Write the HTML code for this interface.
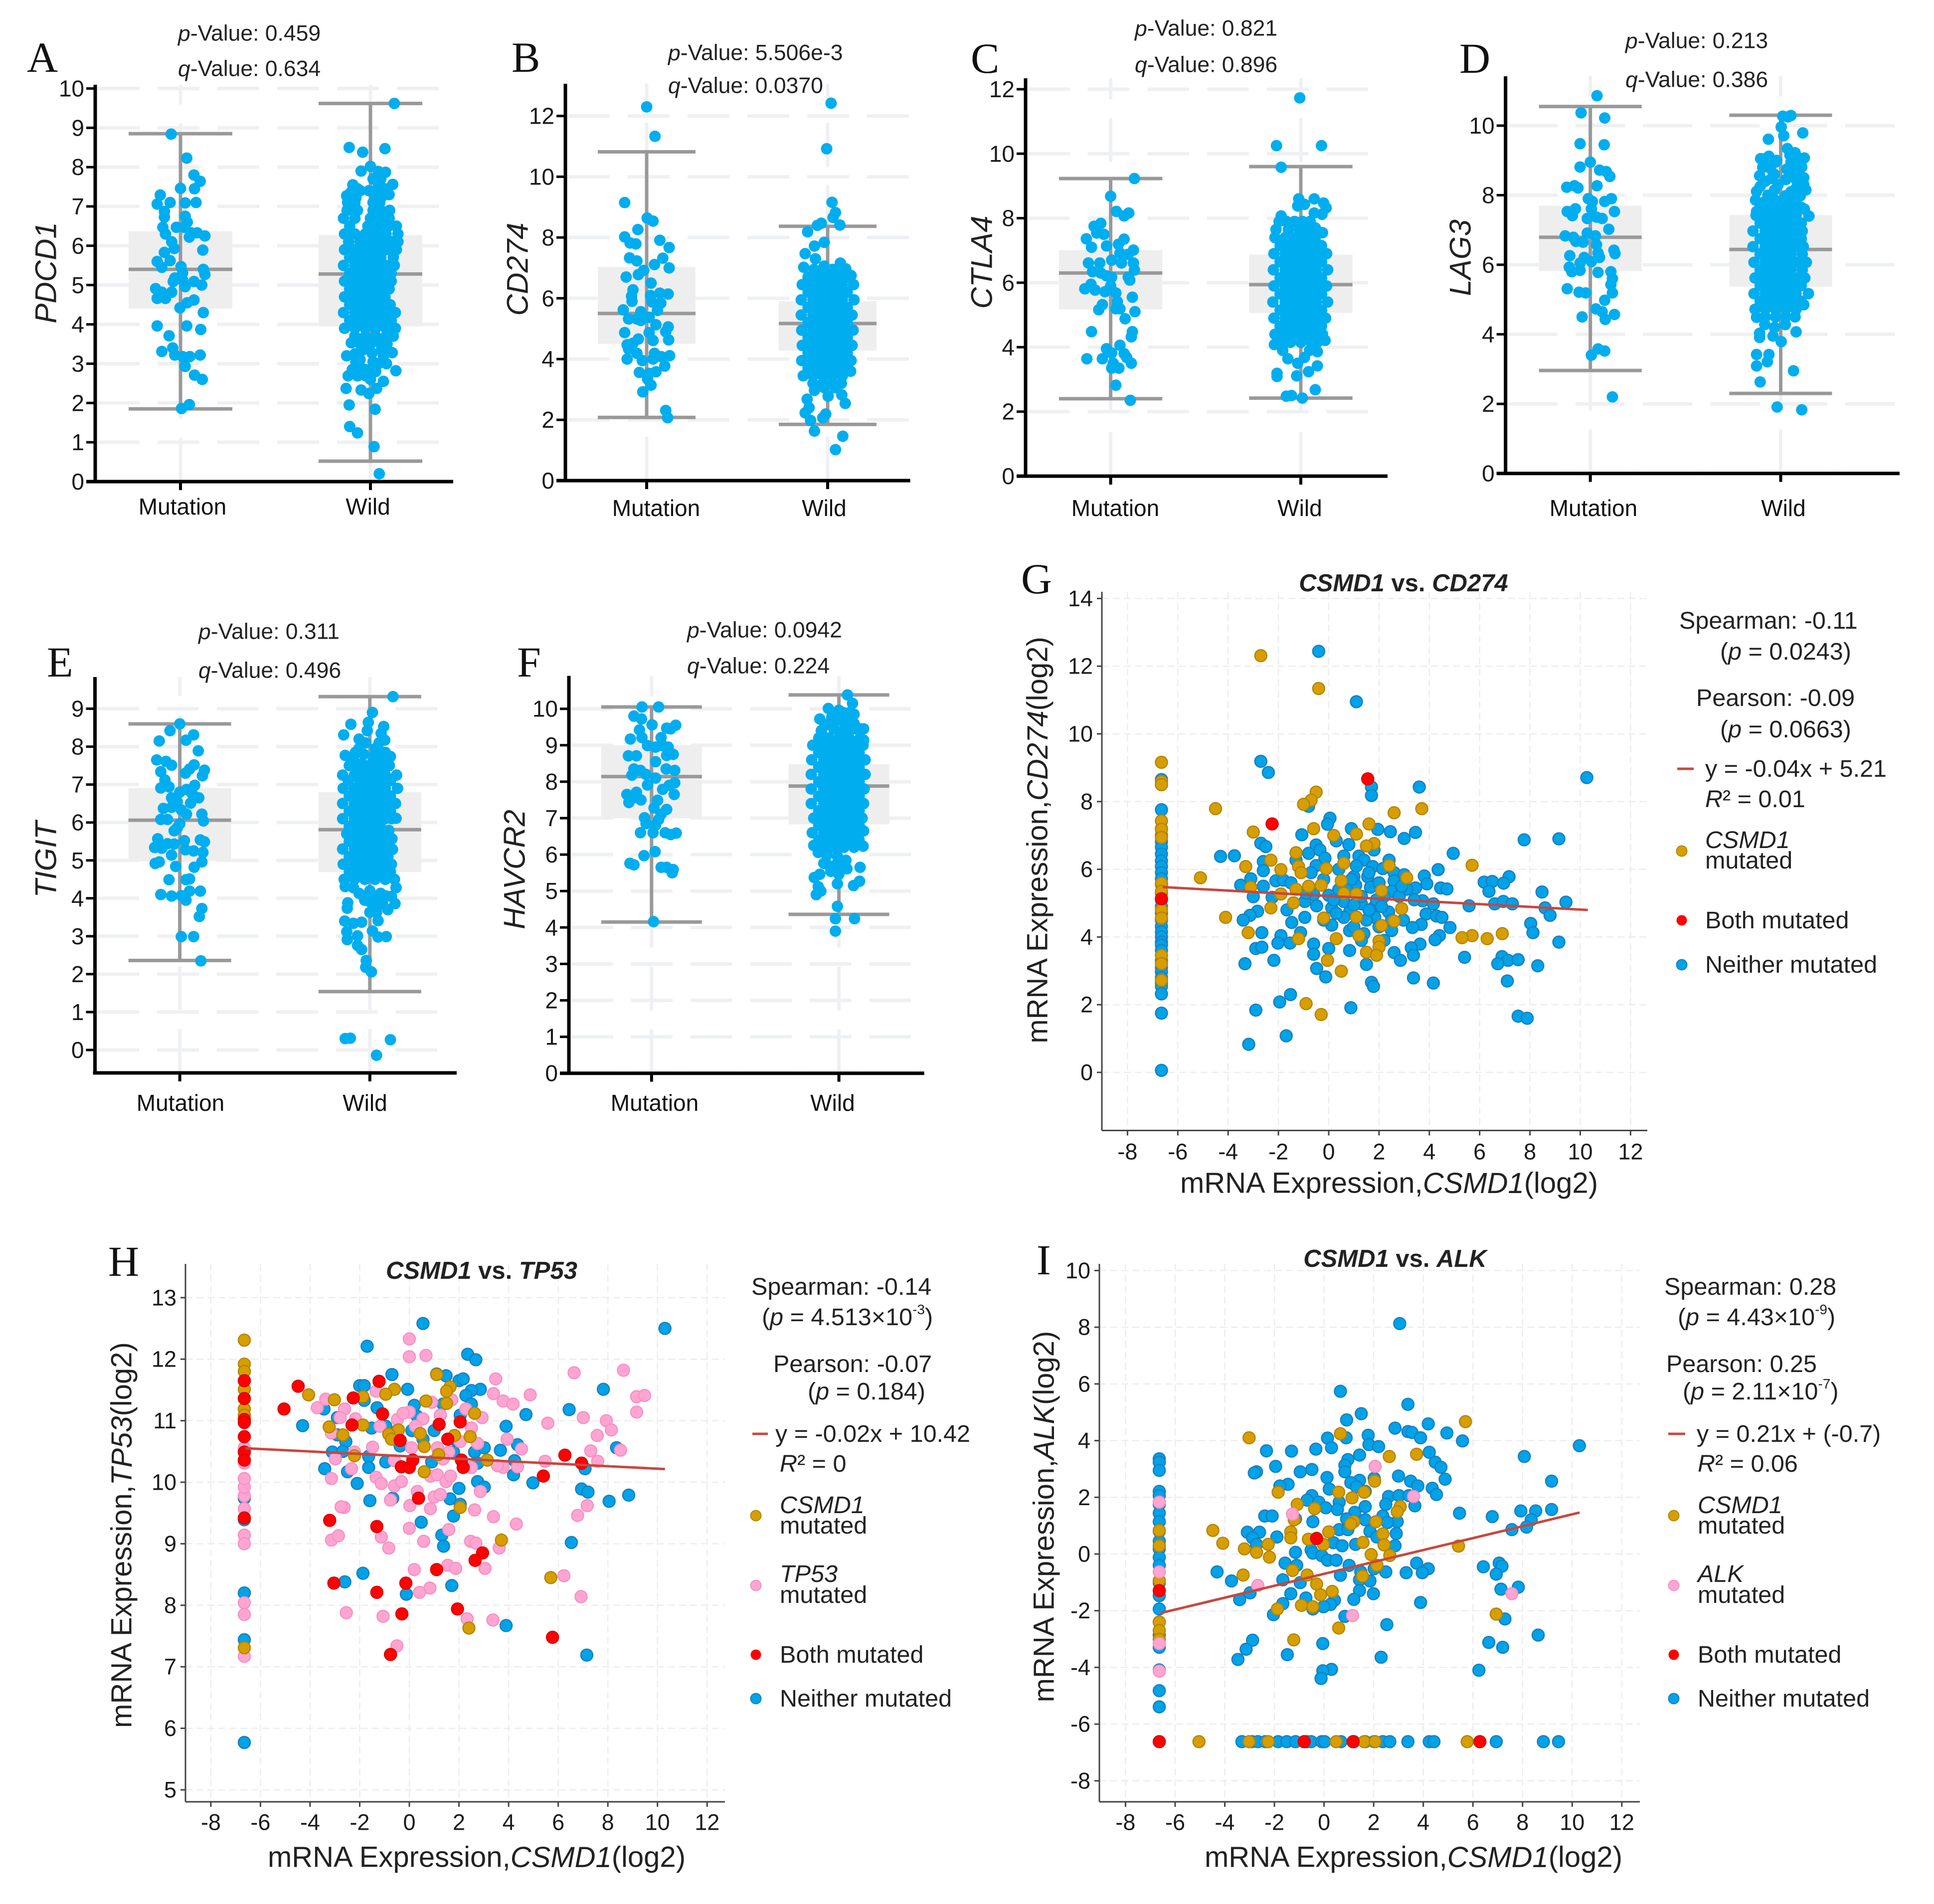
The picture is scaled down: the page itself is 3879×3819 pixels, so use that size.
<!DOCTYPE html>
<html lang="en">
<head>
<meta charset="utf-8">
<title>CSMD1 immune checkpoint expression figure</title>
<style>
html,body{margin:0;padding:0;background:#fff}
svg{display:block}
text{font-family:"Liberation Sans",sans-serif;fill:#1a1a1a;dominant-baseline:central}
.letter{font-family:"Liberation Serif",serif;font-size:86px;dominant-baseline:auto;fill:#111}
.pv{font-size:44.5px;fill:#222}
.cat{font-size:46px;text-anchor:middle;fill:#111}
.gene{font-size:60px;font-style:italic;text-anchor:middle;fill:#222}
.atitle{font-size:58px;text-anchor:middle;fill:#222}
.ptitle{font-size:49px;font-weight:bold;text-anchor:middle;fill:#222}
.leg{font-size:48.5px;fill:#222}
i,.it{font-style:italic}
</style>
</head>
<body>
<svg id="figure" xmlns="http://www.w3.org/2000/svg" width="3879" height="3819" viewBox="0 0 3879 3819">
<rect width="3879" height="3819" fill="#fff"/>
<g id="plots"></g>

<text class="letter" x="54" y="144">A</text>
<text class="letter" x="1026" y="144">B</text>
<text class="letter" x="1947" y="146">C</text>
<text class="letter" x="2927" y="146">D</text>
<text class="letter" x="94" y="1357">E</text>
<text class="letter" x="1037" y="1357">F</text>
<text class="letter" x="2048" y="1190">G</text>
<text class="letter" x="217" y="2559">H</text>
<text class="letter" x="2079" y="2556">I</text>

<text class="pv" x="357" y="67"><tspan class="it">p</tspan>-Value: 0.459</text>
<text class="pv" x="357" y="138"><tspan class="it">q</tspan>-Value: 0.634</text>
<text class="pv" x="1340" y="106"><tspan class="it">p</tspan>-Value: 5.506e-3</text>
<text class="pv" x="1340" y="172"><tspan class="it">q</tspan>-Value: 0.0370</text>
<text class="pv" x="2276" y="57"><tspan class="it">p</tspan>-Value: 0.821</text>
<text class="pv" x="2276" y="130"><tspan class="it">q</tspan>-Value: 0.896</text>
<text class="pv" x="3260" y="82"><tspan class="it">p</tspan>-Value: 0.213</text>
<text class="pv" x="3260" y="160"><tspan class="it">q</tspan>-Value: 0.386</text>
<text class="pv" x="398" y="1267"><tspan class="it">p</tspan>-Value: 0.311</text>
<text class="pv" x="398" y="1345"><tspan class="it">q</tspan>-Value: 0.496</text>
<text class="pv" x="1378" y="1264"><tspan class="it">p</tspan>-Value: 0.0942</text>
<text class="pv" x="1378" y="1336"><tspan class="it">q</tspan>-Value: 0.224</text>

<text class="gene" transform="translate(92 547) rotate(-90)">PDCD1</text>
<text class="gene" transform="translate(1038 540) rotate(-90)">CD274</text>
<text class="gene" transform="translate(1969 526) rotate(-90)">CTLA4</text>
<text class="gene" transform="translate(2929 517) rotate(-90)">LAG3</text>
<text class="gene" transform="translate(92 1724) rotate(-90)">TIGIT</text>
<text class="gene" transform="translate(1032 1744) rotate(-90)">HAVCR2</text>

<text class="cat" x="366" y="1016">Mutation</text>
<text class="cat" x="738" y="1016">Wild</text>
<text class="cat" x="1316" y="1019">Mutation</text>
<text class="cat" x="1653" y="1019">Wild</text>
<text class="cat" x="2237" y="1019">Mutation</text>
<text class="cat" x="2607" y="1019">Wild</text>
<text class="cat" x="3196" y="1019">Mutation</text>
<text class="cat" x="3577" y="1019">Wild</text>
<text class="cat" x="362" y="2212">Mutation</text>
<text class="cat" x="732" y="2212">Wild</text>
<text class="cat" x="1313" y="2212">Mutation</text>
<text class="cat" x="1670" y="2212">Wild</text>

<text class="ptitle" x="2815" y="1170"><tspan class="it">CSMD1</tspan> vs. <tspan class="it">CD274</tspan></text>
<text class="atitle" x="2786" y="2373">mRNA Expression,<tspan class="it">CSMD1</tspan>(log2)</text>
<text class="atitle" transform="translate(2081 1685) rotate(-90)">mRNA Expression,<tspan class="it">CD274</tspan>(log2)</text>
<text class="leg" x="3368" y="1245">Spearman: -0.11</text>
<text class="leg" x="3450" y="1307">(<tspan class="it">p</tspan> = 0.0243)</text>
<text class="leg" x="3402" y="1400">Pearson: -0.09</text>
<text class="leg" x="3450" y="1463">(<tspan class="it">p</tspan> = 0.0663)</text>
<line x1="3364" x2="3397" y1="1542" y2="1542" stroke="#C8473F" stroke-width="5"/>
<text class="leg" x="3420" y="1542">y = -0.04x + 5.21</text>
<text class="leg" x="3420" y="1603"><tspan class="it">R</tspan>² = 0.01</text>
<circle cx="3373" cy="1707" r="10.5" fill="#D69E00" stroke="#B58500" stroke-width="2"/>
<text class="leg" x="3420" y="1685"><tspan class="it">CSMD1</tspan></text>
<text class="leg" x="3420" y="1726">mutated</text>
<circle cx="3373" cy="1846" r="10.5" fill="#FF0000"/>
<text class="leg" x="3420" y="1846">Both mutated</text>
<circle cx="3373" cy="1935" r="10.5" fill="#00A2E8" stroke="#1A7FC0" stroke-width="2"/>
<text class="leg" x="3420" y="1935">Neither mutated</text>

<text class="ptitle" x="966" y="2549"><tspan class="it">CSMD1</tspan> vs. <tspan class="it">TP53</tspan></text>
<text class="atitle" x="956" y="3725">mRNA Expression,<tspan class="it">CSMD1</tspan>(log2)</text>
<text class="atitle" transform="translate(244 3079) rotate(-90)">mRNA Expression,<tspan class="it">TP53</tspan>(log2)</text>
<text class="leg" x="1507" y="2581">Spearman: -0.14</text>
<text class="leg" x="1528" y="2642">(<tspan class="it">p</tspan> = 4.513×10<tspan dy="-16" font-size="28">-3</tspan><tspan dy="16">)</tspan></text>
<text class="leg" x="1551" y="2736">Pearson: -0.07</text>
<text class="leg" x="1620" y="2791">(<tspan class="it">p</tspan> = 0.184)</text>
<line x1="1509" x2="1540" y1="2876" y2="2876" stroke="#C8473F" stroke-width="5"/>
<text class="leg" x="1555" y="2876">y = -0.02x + 10.42</text>
<text class="leg" x="1564" y="2936"><tspan class="it">R</tspan>² = 0</text>
<circle cx="1516" cy="3040" r="10.5" fill="#D69E00" stroke="#B58500" stroke-width="2"/>
<text class="leg" x="1564" y="3019"><tspan class="it">CSMD1</tspan></text>
<text class="leg" x="1564" y="3060">mutated</text>
<circle cx="1516" cy="3180" r="10.5" fill="#FFA5D2" stroke="#F890C4" stroke-width="2"/>
<text class="leg" x="1564" y="3157"><tspan class="it">TP53</tspan></text>
<text class="leg" x="1564" y="3199">mutated</text>
<circle cx="1516" cy="3319" r="10.5" fill="#FF0000"/>
<text class="leg" x="1564" y="3319">Both mutated</text>
<circle cx="1516" cy="3407" r="10.5" fill="#00A2E8" stroke="#1A7FC0" stroke-width="2"/>
<text class="leg" x="1564" y="3407">Neither mutated</text>

<text class="ptitle" x="2798" y="2525"><tspan class="it">CSMD1</tspan> vs. <tspan class="it">ALK</tspan></text>
<text class="atitle" x="2835" y="3725">mRNA Expression,<tspan class="it">CSMD1</tspan>(log2)</text>
<text class="atitle" transform="translate(2094 3042) rotate(-90)">mRNA Expression,<tspan class="it">ALK</tspan>(log2)</text>
<text class="leg" x="3338" y="2581">Spearman: 0.28</text>
<text class="leg" x="3365" y="2642">(<tspan class="it">p</tspan> = 4.43×10<tspan dy="-16" font-size="28">-9</tspan><tspan dy="16">)</tspan></text>
<text class="leg" x="3342" y="2736">Pearson: 0.25</text>
<text class="leg" x="3375" y="2791">(<tspan class="it">p</tspan> = 2.11×10<tspan dy="-16" font-size="28">-7</tspan><tspan dy="16">)</tspan></text>
<line x1="3346" x2="3380" y1="2876" y2="2876" stroke="#C8473F" stroke-width="5"/>
<text class="leg" x="3403" y="2876">y = 0.21x + (-0.7)</text>
<text class="leg" x="3405" y="2936"><tspan class="it">R</tspan>² = 0.06</text>
<circle cx="3357" cy="3040" r="10.5" fill="#D69E00" stroke="#B58500" stroke-width="2"/>
<text class="leg" x="3405" y="3019"><tspan class="it">CSMD1</tspan></text>
<text class="leg" x="3405" y="3060">mutated</text>
<circle cx="3357" cy="3180" r="10.5" fill="#FFA5D2" stroke="#F890C4" stroke-width="2"/>
<text class="leg" x="3405" y="3157"><tspan class="it">ALK</tspan></text>
<text class="leg" x="3405" y="3199">mutated</text>
<circle cx="3357" cy="3319" r="10.5" fill="#FF0000"/>
<text class="leg" x="3405" y="3319">Both mutated</text>
<circle cx="3357" cy="3407" r="10.5" fill="#00A2E8" stroke="#1A7FC0" stroke-width="2"/>
<text class="leg" x="3405" y="3407">Neither mutated</text>
</svg>

<script>
// ---------- Strip-plot data: box stats are [low whisker, Q1, median, Q3, high whisker]; points are [jitter %, value] ----------
const aTicks=[0,1,2,3,4,5,6,7,8,9,10];
const aMutationBox=[1.85,4.4,5.4,6.37,8.85];
const aWildBox=[0.52,3.95,5.28,6.27,9.62];
const aMutation=[[-18,8.84],[12,8.23],[26,7.8],[38,7.64],[27,7.45],[0,7.46],[-39,7.29],[-20,7.1],[-45,7.06],[9,7.09],[30,7.1],[-31,6.87],[-31,6.73],[9,6.75],[13,6.6],[-34,6.47],[-29,6.3],[-8,6.47],[7,6.47],[20,6.33],[32,6.33],[47,6.25],[17,6.22],[-17,6.1],[-12,5.93],[43,5.89],[-31,5.83],[-20,5.62],[-45,5.6],[-36,5.45],[1,5.47],[4,5.31],[44,5.4],[47,5.27],[-11,5.18],[4,5.13],[-14,5.09],[9,4.96],[26,5.09],[41,5],[-48,4.91],[-36,4.82],[-17,4.82],[-45,4.66],[-29,4.66],[26,4.62],[13,4.55],[-1,4.42],[44,4.3],[-45,3.96],[12,3.96],[39,3.87],[-22,3.71],[-15,3.4],[-36,3.31],[-11,3.22],[4,3.18],[18,3.18],[38,3.22],[9,2.93],[27,2.71],[42,2.6],[17,1.96],[2,1.86]];
const aWild=[[46,9.62],[-41,8.5],[-15,8.38],[28,8.47],[-18,7.9],[0,8.02],[15,7.89],[29,7.87],[43,7.56],[-3,7.4],[-34,7.55],[-25,7.45],[28,7.45],[-46,7.27],[-28,7.22],[49,2.82],[42,3.28],[25,2.55],[-47,2.37],[-41,1.95],[9,1.84],[-40,1.4],[-25,1.24],[7,0.89],[17,0.2],[-18,2.33],[-3,2.24],[12,2.37],[-43,2.69],[-25,2.69],[-9,2.69],[0,2.6],[-28,3.04],[-46,3.2],[15,3],[31,3],[-37,3.53],[-15,3.35],[3,3.27],[21,3.35],
[-38,7.35],[-33,7.5],[22,7.25],[15,7.5],[20,7.7],[5,7.7],[-20,7.4],[8,7.3],[36,7.3],[-20,3.5],[0,3.5],[20,3.5],[32,3.5],[-30,3.25],[-20,3.1],[5,3.05],[25,3.2],[-10,2.85],[-20,2.9],[10,2.8],[-35,2.85],
[-30,3.7],[-10,3.7],[10,3.7],[30,3.7],[44,3.7],
[-50,3.9],[-30,3.9],[-10,3.9],[10,3.9],[30,3.9],[48,3.9],
[-40,4.1],[-20,4.1],[0,4.1],[20,4.1],[40,4.1],
[-52,4.3],[-30,4.3],[-10,4.3],[10,4.3],[30,4.3],[48,4.3],
[-40,4.5],[-20,4.5],[0,4.5],[20,4.5],[38,4.5],
[-50,4.7],[-30,4.7],[-10,4.7],[10,4.7],[28,4.7],
[-40,4.9],[-20,4.9],[0,4.9],[20,4.9],[36,4.9],
[-50,5.1],[-30,5.1],[-10,5.1],[10,5.1],[30,5.1],[40,5.1],
[-40,5.3],[-20,5.3],[0,5.3],[20,5.3],[40,5.3],
[-52,5.5],[-30,5.5],[-10,5.5],[10,5.5],[30,5.5],[46,5.5],
[-40,5.7],[-20,5.7],[0,5.7],[20,5.7],[44,5.7],
[-50,5.9],[-30,5.9],[-10,5.9],[10,5.9],[30,5.9],[50,5.9],
[-42,6.1],[-20,6.1],[0,6.1],[20,6.1],[40,6.1],[53,6.1],
[-50,6.3],[-30,6.3],[-10,6.3],[10,6.3],[30,6.3],[53,6.3],
[-40,6.5],[-5,6.5],[15,6.5],[35,6.5],[50,6.5],
[-52,6.7],[-30,6.7],[0,6.7],[20,6.7],[36,6.7],
[-45,6.9],[-25,6.9],[5,6.9],[20,6.9],[37,6.9],
[-44,7.1],[-30,7.1],[5,7.1],[18,7.1]];

const bTicks=[0,2,4,6,8,10,12];
const bMutationBox=[2.08,4.5,5.5,7.03,10.82];
const bWildBox=[1.85,4.28,5.17,5.9,8.37];
const bMutation=[[0,12.3],[17,11.33],[-45,9.15],[1,8.64],[13,8.54],[-18,8.26],[-45,8.02],[-34,7.82],[-22,7.79],[27,7.91],[46,7.67],[-35,7.33],[-20,7.23],[33,7.32],[16,7.11],[46,7],[-17,6.78],[-6,6.92],[-42,6.7],[9,6.5],[-28,6.28],[27,6.17],[44,6.14],[-31,6.07],[8,6.09],[-30,5.9],[29,5.84],[11,5.88],[-48,5.62],[22,5.6],[-12,5.56],[-37,5.32],[-20,5.32],[-12,5.27],[5,5.37],[19,5.13],[44,5.06],[39,4.9],[-45,4.87],[5,4.87],[45,4.63],[13,4.61],[-17,4.66],[-28,4.52],[-40,4.47],[-37,4.33],[-20,4.19],[16,4.19],[47,4.11],[30,4.08],[-40,4],[-9,3.95],[13,4],[37,3.77],[19,3.58],[-15,3.56],[5,3.53],[2,3.34],[9,3.14],[-8,2.92],[39,2.31],[43,2.07]];
const bWild=[[7,12.42],[-2,10.92],[9,9.16],[16,8.82],[11,8.66],[25,8.41],[-13,8.47],[-21,8.4],[-41,8.19],[-7,7.84],[-27,7.72],[-46,7.47],[-25,7.3],[-49,7.02],[-7,7.06],[26,7.16],[37,6.97],[-42,2.68],[-38,2.4],[-46,2.23],[-35,1.98],[-10,2.07],[-4,2.19],[-27,1.63],[31,1.46],[16,1.02],[36,2.54],[29,2.82],[1,2.78],[-27,2.97],[-7,3.06],[15,3.06],
[-30,3.2],[-10,3.2],[10,3.2],[28,3.2],
[-50,3.45],[-30,3.45],[-10,3.45],[10,3.45],[30,3.45],[47,3.6],
[-40,3.7],[-20,3.7],[0,3.7],[20,3.7],[40,3.7],
[-53,3.95],[-30,3.95],[-10,3.95],[10,3.95],[30,3.95],[48,3.95],
[-40,4.2],[-20,4.2],[0,4.2],[20,4.2],[40,4.2],
[-52,4.45],[-30,4.45],[-10,4.45],[10,4.45],[30,4.45],[50,4.45],
[-40,4.7],[-20,4.7],[0,4.7],[20,4.7],[40,4.7],
[-53,4.95],[-30,4.95],[-10,4.95],[10,4.95],[30,4.95],[52,4.95],
[-40,5.2],[-20,5.2],[0,5.2],[20,5.2],[40,5.2],
[-54,5.45],[-30,5.45],[-10,5.45],[10,5.45],[30,5.45],[50,5.45],
[-40,5.7],[-20,5.7],[0,5.7],[20,5.7],[40,5.7],
[-54,5.95],[-30,5.95],[-10,5.95],[10,5.95],[30,5.95],[54,5.95],
[-40,6.2],[-20,6.2],[0,6.2],[20,6.2],[40,6.2],
[-52,6.45],[-30,6.45],[-10,6.45],[10,6.45],[30,6.45],[53,6.45],
[-40,6.7],[-20,6.7],[0,6.7],[20,6.7],[40,6.7],
[-28,6.95],[-10,6.95],[10,6.95],[30,6.95],[48,6.75]];

const cTicks=[0,2,4,6,8,10,12];
const cMutationBox=[2.4,5.17,6.3,7.01,9.23];
const cWildBox=[2.42,5.06,5.94,6.87,9.6];
const cMutation=[[46,9.23],[0,8.68],[11,8.21],[26,8.07],[35,8.16],[-19,7.84],[-32,7.75],[-13,7.5],[-27,7.54],[-47,7.36],[26,7.35],[15,7.19],[-37,7.1],[-8,7.14],[44,7.01],[34,6.88],[18,6.92],[2,6.7],[21,6.61],[-43,6.61],[-21,6.61],[44,6.61],[46,6.39],[-35,6.34],[-19,6.3],[-8,6.21],[2,6.17],[34,6.17],[37,6.08],[-38,5.95],[-50,5.81],[-30,5.77],[0,5.9],[-11,5.72],[10,5.68],[42,5.55],[13,5.41],[-16,5.32],[-23,5.16],[10,5.19],[18,5.19],[47,5.1],[28,4.88],[-37,4.48],[42,4.48],[40,4.32],[18,4.06],[-8,3.95],[2,3.82],[26,3.8],[31,3.68],[-46,3.64],[-16,3.64],[40,3.5],[5,3.5],[2,3.35],[16,3.35],[10,2.82],[38,2.35]];
const cWild=[[-2,11.73],[-47,10.25],[40,10.25],[-38,9.58],[-4,8.6],[26,8.6],[44,8.47],[49,8.32],[-6,8.38],[7,8.43],[26,8.16],[41,8.12],[-38,8.07],[47,4.21],[-51,4.08],[-35,3.9],[17,3.9],[32,3.86],[-25,3.64],[-6,3.5],[7,3.68],[32,3.42],[15,3.24],[-46,3.19],[-46,3.09],[-8,3.11],[28,2.68],[-28,2.48],[-18,2.5],[3,2.42],
[-40,4.15],[-20,4.15],[0,4.15],[20,4.15],[32,4.15],
[-50,4.4],[-30,4.4],[-10,4.4],[10,4.4],[30,4.4],[42,4.4],
[-40,4.65],[-20,4.65],[0,4.65],[20,4.65],[40,4.65],
[-52,4.9],[-30,4.9],[-10,4.9],[10,4.9],[30,4.9],[48,4.9],
[-40,5.15],[-20,5.15],[0,5.15],[20,5.15],[40,5.15],
[-54,5.4],[-30,5.4],[-10,5.4],[10,5.4],[30,5.4],[52,5.4],
[-40,5.65],[-20,5.65],[0,5.65],[20,5.65],[40,5.65],
[-52,5.9],[-30,5.9],[-10,5.9],[10,5.9],[30,5.9],[50,5.9],
[-40,6.15],[-20,6.15],[0,6.15],[20,6.15],[40,6.15],
[-53,6.4],[-30,6.4],[-10,6.4],[10,6.4],[30,6.4],[52,6.4],
[-40,6.65],[-20,6.65],[0,6.65],[20,6.65],[40,6.65],
[-52,6.9],[-30,6.9],[-10,6.9],[10,6.9],[30,6.9],[50,6.9],
[-40,7.15],[-20,7.15],[0,7.15],[20,7.15],[40,7.15],
[-50,7.4],[-30,7.4],[-10,7.4],[10,7.4],[28,7.4],[42,7.55],
[-48,7.65],[-24,7.65],[-3,7.65],[14,7.65],[28,7.7],
[-42,7.9],[-28,7.9],[-12,7.9],[3,7.9],[18,7.9]];

const dTicks=[0,2,4,6,8,10];
const dMutationBox=[2.96,5.82,6.79,7.7,10.55];
const dWildBox=[2.3,5.37,6.44,7.43,10.3];
const dMutation=[[13,10.86],[-18,10.37],[28,10.22],[-20,9.48],[27,9.45],[0,8.95],[-20,8.81],[18,8.72],[31,8.68],[38,8.54],[-46,8.23],[-31,8.27],[-24,8.21],[13,8.27],[41,7.9],[28,7.82],[-4,7.9],[4,7.82],[47,7.53],[-45,7.53],[-29,7.61],[-35,7.41],[2,7.61],[-6,7.33],[12,7.37],[23,7.33],[36,7.02],[-49,6.83],[-33,6.79],[-6,6.91],[10,6.83],[-28,6.67],[-14,6.65],[12,6.58],[46,6.42],[48,6.32],[15,6.34],[-40,6.26],[18,6.21],[-12,6.21],[-20,6.05],[2,6.09],[-41,5.93],[-36,5.8],[-20,5.84],[15,5.78],[40,5.8],[43,5.6],[40,5.43],[-45,5.31],[-22,5.21],[-9,5.19],[43,5.19],[28,4.98],[11,4.73],[23,4.65],[47,4.57],[29,4.43],[-16,4.5],[15,3.58],[28,3.52],[2,3.4],[43,2.2]];
const dWild=[[20,10.29],[4,10.27],[14,10.25],[1,9.96],[6,9.71],[43,9.79],[-24,9.61],[13,9.34],[-39,9.05],[-23,9.12],[28,9.22],[46,9.07],[-41,8.56],[-20,8.77],[30,8.72],[41,8.81],[-18,8.48],[20,8.56],[36,8.48],[-47,8.11],[-12,8.15],[49,8.15],[38,7.98],[-49,7.86],[9,7.98],[-47,7.53],[-30,9.05],[-8,9],[20,8.95],[38,9],[-30,8.4],[30,8.2],[-25,8],[-5,8.3],[20,8.1],[-32,7.8],[-10,7.85],[10,7.8],[28,7.85],[30,4.07],[1,3.79],[-41,4.03],[-41,3.91],[-15,3.95],[-47,3.42],[-23,3.42],[-26,3.21],[-47,3.09],[25,2.95],[-40,2.63],[-7,1.91],[41,1.83],[-47,4.49],[-31,4.28],[-12,4.2],[9,4.28],
[-40,8.25],[-12,8.6],[10,8.45],[30,8.45],[45,8.5],[12,8.75],[32,9.1],[45,8.3],[-10,8.95],[-35,8.8],[18,9.15],
[-30,4.5],[-10,4.5],[10,4.5],[28,4.5],
[-50,4.72],[-30,4.72],[-10,4.72],[10,4.72],[30,4.72],[45,4.85],
[-40,4.95],[-20,4.95],[0,4.95],[20,4.95],[40,4.95],
[-52,5.17],[-30,5.17],[-10,5.17],[10,5.17],[30,5.17],[54,5.17],
[-40,5.4],[-20,5.4],[0,5.4],[20,5.4],[40,5.4],
[-50,5.62],[-30,5.62],[-10,5.62],[10,5.62],[30,5.62],[47,5.62],
[-40,5.85],[-20,5.85],[0,5.85],[20,5.85],[42,5.85],
[-52,6.07],[-30,6.07],[-10,6.07],[10,6.07],[30,6.07],[50,6.07],
[-40,6.3],[-20,6.3],[0,6.3],[20,6.3],[42,6.3],
[-54,6.52],[-30,6.52],[-10,6.52],[10,6.52],[30,6.52],[44,6.52],
[-40,6.75],[-20,6.75],[0,6.75],[20,6.75],[40,6.75],
[-54,6.97],[-30,6.97],[-10,6.97],[10,6.97],[30,6.97],[42,6.97],
[-40,7.2],[-20,7.2],[0,7.2],[20,7.2],[40,7.2],[55,7.4],
[-48,7.42],[-30,7.42],[-10,7.42],[10,7.42],[30,7.42],[46,7.6],
[-40,7.65],[-20,7.65],[0,7.65],[20,7.65],[40,7.65]];

const eTicks=[0,1,2,3,4,5,6,7,8,9];
const eMutationBox=[2.36,4.98,6.06,6.91,8.6];
const eWildBox=[1.54,4.69,5.81,6.8,9.32];
const eMutation=[[0,8.6],[-19,8.42],[-40,8.15],[27,8.31],[12,8.17],[36,7.89],[-45,7.65],[-27,7.61],[-16,7.51],[28,7.52],[19,7.41],[11,7.3],[-37,7.34],[48,7.38],[44,7.23],[-29,7.12],[-37,6.91],[-21,6.94],[29,6.98],[13,6.87],[0,6.8],[24,6.76],[37,6.65],[-16,6.65],[-5,6.55],[21,6.51],[-32,6.37],[-16,6.4],[3,6.33],[13,6.22],[43,6.22],[-37,6.08],[-24,6.08],[46,6.04],[0,5.97],[-5,5.86],[-11,5.78],[-43,5.57],[40,5.54],[9,5.52],[48,5.49],[-24,5.44],[-11,5.43],[-49,5.34],[-35,5.32],[11,5.28],[27,5.25],[45,5.21],[-16,5.14],[43,4.96],[-48,4.92],[-40,4.96],[-8,4.84],[28,4.82],[-21,4.49],[12,4.49],[19,4.51],[40,4.19],[19,4.19],[-37,4.1],[-16,4.06],[3,4.07],[12,3.95],[43,3.73],[38,3.52],[3,2.99],[27,2.99],[41,2.35]];
const eWild=[[45,9.32],[5,8.9],[-37,8.59],[-51,8.31],[-3,8.64],[27,8.53],[-5,8.42],[29,8.17],[-21,8.2],[40,7.74],[-48,7.77],[-32,7.7],[-21,7.95],[11,7.95],[21,7.77],[5,7.59],[-29,7.45],[29,7.52],[-8,8.1],[22,8.35],[8,7.75],[49,3.86],[-43,3.88],[-44,3.74],[0,3.91],[16,3.91],[35,3.7],[13,3.63],[0,3.63],[16,3.41],[-49,3.4],[-32,3.34],[-16,3.37],[-45,3.12],[-44,2.91],[-24,3.01],[5,3.14],[16,2.98],[32,2.99],[-24,2.76],[-16,2.65],[-7,2.36],[-8,2.18],[3,2.06],[-48,0.3],[-38,0.31],[40,0.27],[13,-0.14],[-21,4.13],[-48,4.31],[51,4.28],[32,4.06],[-32,4.28],[0,4.2],[21,4.13],[51,6.11],[44,5.29],[43,5.57],[37,5.79],
[-40,7.5],[-15,7.55],[15,7.5],[38,7.5],[-12,7.8],[-28,7.85],[30,7.85],[18,8.1],[-20,7.4],[0,7.4],[18,7.35],[-10,3.95],[12,3.75],[25,3.85],[8,4],[42,4.05],[-12,4.05],
[-50,4.5],[-30,4.5],[-10,4.5],[10,4.5],[30,4.5],[48,4.5],
[-40,4.7],[-20,4.7],[0,4.7],[20,4.7],[40,4.7],
[-52,4.9],[-30,4.9],[-10,4.9],[10,4.9],[30,4.9],[42,4.9],
[-40,5.1],[-20,5.1],[0,5.1],[20,5.1],[35,5.1],
[-53,5.3],[-30,5.3],[-10,5.3],[10,5.3],[25,5.3],
[-40,5.5],[-20,5.5],[0,5.5],[20,5.5],[32,5.5],
[-45,5.7],[-30,5.7],[-10,5.7],[10,5.7],[28,5.7],
[-40,5.9],[-20,5.9],[0,5.9],[20,5.9],[40,6.3],
[-53,6.1],[-30,6.1],[-10,6.1],[10,6.1],[30,6.1],[42,6.1],
[-40,6.3],[-20,6.3],[0,6.3],[20,6.3],
[-53,6.5],[-30,6.5],[-10,6.5],[10,6.5],[30,6.5],[50,6.5],
[-40,6.7],[-20,6.7],[0,6.7],[20,6.7],[40,6.7],
[-52,6.9],[-30,6.9],[-10,6.9],[10,6.9],[30,6.9],[54,6.9],
[-42,7.1],[-20,7.1],[0,7.1],[20,7.1],[40,7.1],
[-53,7.25],[-30,7.25],[-10,7.25],[10,7.25],[30,7.25],[52,7.25]];

const fTicks=[0,1,2,3,4,5,6,7,8,9,10];
const fMutationBox=[4.15,7,8.14,9,10.05];
const fWildBox=[4.36,6.83,7.88,8.48,10.38];
const fMutation=[[-19,10.05],[14,10.05],[-35,9.8],[-20,9.72],[1,9.56],[48,9.55],[30,9.47],[38,9.45],[-24,9.42],[19,9.21],[-42,9.17],[-19,9.21],[-8,8.99],[8,8.95],[22,8.99],[33,8.95],[-46,8.71],[-30,8.71],[30,8.72],[43,8.75],[8,8.55],[-35,8.35],[-22,8.31],[29,8.35],[46,8.31],[-39,8.18],[-11,8.2],[8,8.1],[-8,7.91],[46,7.97],[35,7.9],[22,7.79],[-49,7.65],[-30,7.71],[45,7.65],[-35,7.56],[-21,7.5],[-45,7.43],[12,7.49],[5,7.28],[30,7.24],[19,7.11],[-14,7.01],[14,6.96],[-11,6.85],[8,6.81],[3,6.6],[-22,6.6],[27,6.6],[38,6.55],[49,6.59],[7,6.08],[-15,5.97],[-43,5.76],[-35,5.72],[19,5.65],[30,5.65],[43,5.59],[41,5.5],[4,4.16]];
const fWild=[[17,10.38],[27,10.15],[-21,10.01],[0,9.96],[30,9.85],[-38,9.72],[-14,9.78],[16,9.78],[49,9.45],[49,9.14],[48,6.23],[42,5.65],[16,5.61],[-30,5.76],[-49,5.37],[-38,5.46],[0,5.46],[-16,5.54],[-3,5.2],[-41,5.12],[41,5.27],[29,5.15],[-36,5],[-45,4.9],[-3,4.58],[-7,4.24],[31,4.24],[-7,3.9],[14,5.84],[-41,6.06],[-24,5.99],[-3,5.95],
[-20,9.6],[-28,9.55],[8,9.9],[22,9.9],[-25,5.75],[-8,5.7],[5,5.75],
[-50,6.25],[-30,6.2],[-10,6.2],[10,6.2],[30,6.2],
[-40,6.4],[-20,6.4],[0,6.4],[20,6.4],[40,6.4],
[-53,6.6],[-30,6.6],[-10,6.6],[10,6.6],[30,6.6],[49,6.65],
[-40,6.8],[-20,6.8],[0,6.8],[20,6.8],[40,6.8],
[-50,7],[-30,7],[-10,7],[10,7],[30,7],[46,7],
[-40,7.2],[-20,7.2],[0,7.2],[20,7.2],[40,7.2],
[-55,7.4],[-30,7.4],[-10,7.4],[10,7.4],[30,7.4],[49,7.4],
[-40,7.6],[-20,7.6],[0,7.6],[20,7.6],[40,7.6],
[-55,7.8],[-30,7.8],[-10,7.8],[10,7.8],[30,7.8],[50,7.8],
[-40,8],[-20,8],[0,8],[20,8],[40,8],
[-55,8.2],[-30,8.2],[-10,8.2],[10,8.2],[30,8.2],[52,8.2],
[-40,8.4],[-20,8.4],[0,8.4],[20,8.4],[40,8.4],
[-54,8.6],[-30,8.6],[-10,8.6],[10,8.6],[30,8.6],[52,8.6],
[-40,8.8],[-20,8.8],[0,8.8],[20,8.8],[40,8.8],
[-52,9],[-30,9],[-10,9],[10,9],[30,9],[48,9],
[-40,9.2],[-20,9.2],[0,9.2],[20,9.2],[42,9.2],
[-35,9.4],[-10,9.45],[10,9.4],[30,9.45],[42,9.45],[-8,9.65],[12,9.6],[22,9.65],[0,9.8],[30,9.6]];

// ---------- Scatter data: points are [CSMD1 log2, gene log2] ----------
const scatterXTicks=[-8,-6,-4,-2,0,2,4,6,8,10,12];
const gYTicks=[0,2,4,6,8,10,12,14];
const gFit=[-0.04,5.21];
const gFitRange=[-6.6,10.3];
const gNeither=[[-6.65,8.65],[-6.65,8.5],[-6.65,7.76],[-6.65,7.2],[-6.65,7],[-6.65,6.82],[-6.65,6.65],[-6.65,6.45],[-6.65,6.25],[-6.65,6.08],[-6.65,5.9],[-6.65,5.72],[-6.65,5.55],[-6.65,5.3],[-6.65,5.1],[-6.65,4.9],[-6.65,4.7],[-6.65,4.5],[-6.65,4.31],[-6.65,4.15],[-6.65,4],[-6.65,3.85],[-6.65,3.76],[-6.65,3.6],[-6.65,3.3],[-6.65,3.1],[-6.65,2.97],[-6.65,2.8],[-6.65,2.65],[-6.65,2.54],[-6.65,2.32],[-6.65,1.75],[-6.65,0.06],
[-0.4,12.44],[1.1,10.95],[10.26,8.71],[-2.7,9.19],[-2.4,8.86],[1.7,8.43],[1.7,8.18],[3.6,8.43],[-0.8,7.86],[0.05,7.51],[-0.05,7.33],[0.9,7.2],[1.95,7.18],[2.45,7.11],[3.45,7.09],[3,6.91],[-1.07,7.02],[0.3,6.84],[0.8,6.73],[7.77,6.87],[9.15,6.9],[-2.7,6.77],[-2.5,6.67],[-0.5,6.72],[-0.35,6.57],[-4.3,6.38],[-3.75,6.4],[-0.8,6.47],[1.2,6.39],[1.8,6.57],[4.95,6.47],[0.6,6.39],[-2.6,6.23],[-0.15,6.33],[2.4,6.27],[-0.5,6.11],[1.4,6.27],[1.75,6.08],[-1.3,6.27],[4.35,5.99],[2.15,6.02],[-2.6,5.96],[2.6,5.9],[1,5.78],[3.8,5.8],[1.55,5.78],[3,5.84],[-3.1,5.72],[-2.1,5.66],[-1.8,5.68],[7.17,5.78],[6.18,5.62],[6.5,5.64],[6.95,5.59],[-3.5,5.53],[-2.6,5.5],[3.9,5.57],[1.07,5.53],[2.6,5.66],[3.45,5.45],[4.45,5.45],[4.7,5.42],[6.37,5.35],[8.48,5.33],[-3,5.19],[-2.25,5.17],[-0.6,5.25],[0,5.23],[1.66,5.47],[2.5,5.35],[3.1,5.41],[-0.95,5.05],[0.6,5.05],[1.3,4.98],[3.73,5.07],[9.43,5.03],[6.6,4.98],[6.94,5.05],[7.3,4.98],[5.58,4.92],[4.16,4.98],[-1.66,4.8],[-0.48,4.92],[0.12,4.86],[1.78,4.86],[2.38,4.74],[0.83,4.74],[8.6,4.86],[-2.83,4.76],[-3.13,4.64],[-0.95,4.58],[3.87,4.68],[4.28,4.62],[4.5,4.58],[8.8,4.64],[-3.4,4.5],[-1.47,4.43],[0.6,4.58],[1.83,4.58],[2.97,4.5],[0.12,4.35],[3.68,4.37],[8.03,4.4],[3.33,4.28],[4.82,4.28],[-2.66,4.13],[-1.12,4.13],[0.83,4.19],[2.5,4.19],[8.12,4.13],[-1.9,4.04],[4.4,4.04],[4.23,3.92],[9.15,3.85],[-2.02,3.82],[-1.54,3.82],[-0.6,3.79],[3.63,3.79],[-2.9,3.66],[-2.66,3.7],[0,3.66],[0.83,3.6],[3.28,3.68],[2.6,3.54],[-0.6,3.49],[3.37,3.46],[5.4,3.4],[-2.18,3.31],[2.85,3.31],[6.89,3.42],[7.13,3.31],[7.53,3.33],[6.72,3.21],[8.31,3.15],[-3.33,3.21],[1.5,3.19],[-0.48,3.07],[-0.12,2.82],[3.37,2.79],[7.1,2.7],[4.16,2.64],[1.7,2.66],[1.78,2.54],[-1.52,2.3],[-1.95,2.08],[0.88,1.91],[-2.9,1.84],[7.53,1.66],[7.89,1.6],[-1.69,1.08],[-3.18,0.83],
[0.4,6],[0.9,5.7],[2,5.6],[1.3,5.2],[2.2,5.2],[0.4,5.4],[-0.2,5.7],[1.5,4.5],[2,4.3],[1,4.3],[2.8,5.2],[-1.5,5.6],[-0.7,5.9],[0.3,4.7],[1.4,4.1],[2.2,3.9],[1.9,5.1],[3.4,5.1],[1,4.95],[0.7,5.4],[1.6,5.9],[1.1,6.1],[2.9,5.5],[1.6,4.8],[0.2,5.1],[2.5,4.5],[1.3,3.9],[-0.2,4.5],[-0.9,5.3],[2.1,4.9]];
const gCsmd1=[[-6.65,9.16],[-6.65,8.59],[-6.65,8.5],[-6.65,7.43],[-6.65,7.18],[-6.65,6.94],[-6.65,5.59],[-6.65,5.35],[-6.65,4.8],[-6.65,4.56],[-6.65,3.46],[-6.65,3.21],[-6.65,2.72],
[-2.7,12.31],[-0.4,11.34],[-0.5,8.28],[-0.7,8.04],[-1,7.92],[-4.5,7.79],[3.7,7.79],[2.6,7.67],[-3,7.1],[-0.6,7.2],[1.6,7.34],[1.1,7.04],[0.2,7],[1.8,6.76],[1.5,6.69],[-1.3,6.49],[-2.3,6.27],[-3.3,6.08],[-1.9,5.99],[-1.2,6.08],[-1.1,5.9],[0.6,6.18],[-0.1,6.02],[2.4,6.11],[5.7,6.12],[-5.1,5.75],[3.1,5.75],[0.5,5.66],[-3.1,5.47],[-0.8,5.5],[-0.3,5.53],[-1.3,5.41],[2.1,5.37],[-1.9,5.27],[0.6,5.29],[1.1,5.27],[-1.4,5.01],[-2.3,4.86],[2.9,4.84],[-4.1,4.58],[1.1,4.59],[-0.2,4.56],[2.6,4.47],[2.1,4.34],[-3.2,4.13],[6.9,4.1],[5.7,4.04],[5.3,3.98],[6.3,3.95],[1.2,4.04],[-1.2,3.95],[0.3,3.95],[2,3.88],[2,3.7],[1.5,3.55],[1.9,3.46],[-0.05,3.31],[0.5,2.99],[-0.9,2.03],[-0.3,1.71]];
const gBoth=[[1.55,8.67],[-2.25,7.34],[-6.65,5.13]];

const hYTicks=[5,6,7,8,9,10,11,12,13];
const hFit=[-0.02,10.42];
const hFitRange=[-6.6,10.3];
const hNeither=[[-6.65,8.2],[-6.65,7.44],[-6.65,5.77],[-6.65,9.74],[-6.65,9.39],
[10.3,12.5],[0.55,12.58],[-1.7,12.21],[2.35,12.08],[2.68,11.99],[-0.7,11.75],[1.1,11.76],[1.48,11.73],[2,11.65],[2.17,11.68],[7.82,11.51],[-2,11.57],[-1.82,11.57],[-0.07,11.51],[2.86,11.51],[2.5,11.49],[2.28,11.41],[-3.44,11.19],[-1.82,11.33],[-1.3,11.21],[0.2,11.25],[2.5,11.27],[6.44,11.18],[4.7,11.1],[-2.9,11.05],[-4.3,10.92],[-1.52,10.88],[3.9,10.91],[2.05,11.09],[0.32,11.07],[1,10.84],[0.1,10.84],[-2.56,10.66],[-2.9,10.77],[-0.37,10.59],[1.82,10.7],[4.36,10.61],[3.67,10.52],[2.63,10.49],[3.02,10.56],[8.35,10.56],[-3.1,10.49],[-2.68,10.5],[1.78,10.49],[-1.64,10.42],[2.75,10.31],[4.24,10.35],[-0.95,10.33],[0.9,10.33],[-3.41,10.22],[-1.64,10.24],[-2.49,10.17],[7.08,10.22],[4.2,10.12],[-2.1,9.98],[4.98,9.99],[2.75,10.01],[3.02,9.92],[2,9.9],[6.94,9.89],[7.2,9.84],[8.84,9.79],[-0.67,9.74],[-1.59,9.7],[1.64,9.73],[8.05,9.69],[2.05,9.64],[1.78,9.45],[0.48,9.35],[1.31,9.14],[6.53,9.02],[1.38,8.96],[-1.87,8.52],[-2.6,8.38],[1.71,8.32],[-0.12,8.18],[3.9,7.67],[7.15,7.19],[-0.95,10.91],[1.25,11.09],[0.55,10.7],[1.36,11.27],[-0.48,10.84]];
const hTp53=[[-6.65,7.17],[-6.65,8.04],[-6.65,7.85],[-6.65,9.14],[-6.65,9],[-6.65,9.57],[-6.65,9.78],[-6.65,9.92],[-6.65,10.06],[-6.65,10.31],[-6.65,10.56],[-6.65,10.98],
[0,12.33],[0,12.04],[0.67,12.06],[8.63,11.82],[6.64,11.78],[3.48,11.68],[3.39,11.44],[4.87,11.42],[3.78,11.32],[4.18,11.27],[9.16,11.39],[9.48,11.41],[9.16,11.14],[7.01,11.05],[7.94,11],[5.58,10.96],[8.14,10.85],[7.57,10.76],[3.94,10.7],[7.31,10.51],[8.51,10.52],[4.52,10.54],[5.47,10.34],[7.59,10.34],[3.78,10.24],[4.36,10.25],[-3.71,11.21],[-3.37,11.35],[-2.61,11.19],[-2.79,11.05],[-2.17,11.03],[-3.14,10.8],[-2.98,10.38],[-2.33,10.22],[-3.14,10.06],[-1.34,11.48],[-1.18,10.91],[-1.48,10.57],[-2.21,10.49],[-1.34,10.08],[-1.13,9.98],[-0.6,9.94],[-0.32,10.01],[-0.6,10.35],[-0.48,11.02],[0,11.14],[-0.25,11.12],[0.55,11.03],[0.25,10.91],[1.25,11.09],[0.9,11.3],[1.71,11.34],[2.28,11.19],[2.5,10.88],[2.93,11.05],[2.75,10.63],[2.05,10.66],[1.13,10.56],[0.09,10.56],[1.59,10.49],[1.36,10.38],[2.5,10.24],[3.55,10.27],[0.85,10.1],[1.13,10.12],[1.48,10.01],[1.66,10.1],[0.32,9.85],[2.86,9.85],[1,9.76],[1.25,9.8],[-0.76,9.71],[0.02,9.62],[0.85,9.57],[-2.63,9.59],[-2.75,9.6],[2.63,9.55],[7.17,9.62],[6.78,9.46],[3.39,9.44],[4.31,9.32],[0,9.25],[1.59,9.23],[-3.14,9.06],[-2.86,9.13],[-1.13,9.11],[-0.83,8.93],[0.58,9.04],[2.47,9.04],[2.68,9.01],[3.62,8.93],[1.55,8.65],[1.87,8.6],[0.2,8.58],[3.05,8.6],[6.23,8.48],[0.83,8.28],[0.41,8.21],[6.92,8.14],[-2.54,7.88],[-1.06,7.82],[2.33,7.78],[3.37,7.76],[-0.5,7.34]];
const hCsmd1=[[-6.65,12.31],[-6.65,11.92],[-6.65,11.8],[-6.65,11.51],[-6.65,11.19],[-6.65,11.09],[-6.65,7.31],
[1.1,11.75],[1.64,11.55],[1.5,11.48],[-0.6,11.51],[-0.95,11.43],[-4.06,11.42],[-3.02,11.34],[-1.87,11.39],[0.67,11.32],[1.5,11.28],[2.63,11.12],[-3.23,10.9],[-1.87,10.93],[-0.44,10.85],[-0.83,10.78],[-0.72,10.7],[-2.68,10.77],[0.44,10.79],[1.82,10.76],[2.45,10.74],[0.6,10.58],[-2.21,10.43],[1.18,10.45],[3.14,10.36],[0.6,10.17],[2.05,9.59],[3.71,9.06],[5.7,8.45],[2.4,7.63]];
const hBoth=[[-6.65,11.65],[-6.65,11.36],[-6.65,11.02],[-6.65,10.97],[-6.65,10.74],[-6.65,10.49],[-6.65,10.36],[-6.65,9.42],
[-4.48,11.56],[-5.05,11.19],[-1.22,11.64],[-2.26,11.37],[-1.08,11.11],[-2.31,10.93],[1.2,10.94],[2.05,10.98],[-0.37,10.68],[1.55,10.7],[6.27,10.44],[6.94,10.31],[5.4,10.1],[-0.32,10.25],[0,10.24],[0.14,10.36],[2.1,10.36],[2.17,10.24],[0.37,9.74],[-3.21,9.38],[-1.31,9.28],[2.95,8.85],[2.65,8.73],[1.1,8.58],[-3.04,8.36],[-0.14,8.36],[-1.31,8.21],[1.94,7.94],[-0.3,7.86],[5.77,7.48],[-0.76,7.2]];

const iYTicks=[-8,-6,-4,-2,0,2,4,6,8,10];
const iFit=[0.21,-0.7];
const iFitRange=[-6.6,10.3];
const iNeither=[[-6.64,3.36],[-6.64,3.24],[-6.64,2.95],[-6.64,2.21],[-6.64,2.06],[-6.64,1.75],[-6.64,1.44],[-6.64,1.14],[-6.64,0.8],[-6.64,0.45],[-6.64,0.18],[-6.64,-0.12],[-6.64,-0.4],[-6.64,-1.01],[-6.64,-1.47],[-6.64,-1.94],[-6.64,-2.4],[-6.64,-2.86],[-6.64,-3.29],[-6.64,-4.09],[-6.64,-4.82],[-6.64,-5.39],
[-3.31,-6.62],[-2.91,-6.62],[-2.67,-6.62],[-2.37,-6.62],[-1.85,-6.62],[-1.5,-6.62],[-1.15,-6.62],[-0.68,-6.62],[-0.52,-6.62],[-0.09,-6.62],[0.02,-6.62],[0.68,-6.62],[1.2,-6.62],[1.66,-6.62],[2.02,-6.62],[2.37,-6.62],[2.65,-6.62],[3.38,-6.62],[4.24,-6.62],[4.43,-6.62],[6.94,-6.62],[8.84,-6.62],[9.45,-6.62],
[3.05,8.13],[0.66,5.74],[3.38,5.28],[1.5,4.95],[0.91,4.73],[4.2,4.59],[4.95,4.27],[2.86,4.44],[3.38,4.32],[3.54,4.29],[3.89,4.1],[1.78,4.19],[0.14,4.09],[0.89,4.1],[5.58,3.99],[10.29,3.82],[1.81,3.86],[2.2,3.79],[-0.33,3.7],[0.3,3.75],[-2.32,3.64],[-1.31,3.63],[1.43,3.49],[4.24,3.59],[8.07,3.44],[4.48,3.24],[4.71,3.06],[0.96,3.33],[0.84,3.13],[-1.95,3.09],[-0.49,2.98],[-0.96,2.9],[0.84,2.9],[-2.72,2.9],[-2.81,2.86],[3,2.75],[0.12,2.7],[4.88,2.64],[3.49,2.57],[9.17,2.57],[2.02,2.67],[1.43,2.6],[1.08,2.52],[-1.45,2.46],[-1.78,2.4],[3.78,2.4],[1.31,2.37],[0.21,2.29],[4.36,2.32],[1.66,2.21],[4.53,2.1],[-0.49,2.06],[-0.68,1.9],[2.6,2.03],[3.02,2.06],[3.42,2.06],[-0.21,1.83],[0.61,1.83],[2.49,1.75],[3.66,1.7],[1.66,1.67],[0.07,1.63],[0.54,1.57],[9.17,1.57],[7.93,1.52],[8.53,1.52],[5.46,1.44],[1.24,1.47],[-2.39,1.34],[-2.09,1.34],[6.78,1.32],[2.37,1.34],[1.66,1.21],[8.35,1.21],[-1.15,1.24],[2.95,1.14],[2.56,1.11],[-0.45,1.14],[8.16,0.95],[0.91,1.24],[7.57,0.86],[0.61,0.86],[-3.09,0.77],[-2.6,0.77],[0.96,0.86],[1.85,0.8],[2.91,0.72],[-2.88,0.57],[-1.9,0.6],[2.13,0.6],[-2.72,0.34],[0.38,0.4],[1.27,0.34],[2.86,0.29],[0.73,0.29],[-0.52,0.14],[-1.15,0.06],[-0.45,0.03],[-0.09,-0.06],[0.14,-0.22],[0.49,-0.22],[-1.57,-0.32],[3.73,-0.32],[-1.1,-0.4],[1.01,-0.4],[6.42,-0.45],[7.06,-0.32],[7.17,-0.43],[4.2,-0.52],[-4.31,-0.63],[2.02,-0.52],[1.48,-0.63],[2.49,-0.63],[3.31,-0.66],[3.96,-0.66],[6.94,-0.71],[0.66,-0.75],[-3.73,-0.95],[-1.66,-0.91],[1.43,-0.91],[-0.96,-1.01],[1.85,-0.95],[7.83,-1.17],[7.13,-1.24],[1.43,-1.29],[-2.98,-1.37],[-1.34,-1.4],[1.99,-1.4],[-3.4,-1.61],[-0.73,-1.55],[1.2,-1.6],[0.42,-1.63],[3.89,-1.71],[-1.66,-1.75],[0.26,-1.78],[-0.02,-1.86],[-0.45,-1.94],[-2.04,-2.14],[0.84,-2.2],[7.29,-2.29],[2.53,-2.49],[8.63,-2.86],[-2.88,-3.04],[6.64,-3.12],[-0.05,-3.16],[7.2,-3.29],[-3.14,-3.36],[-1.48,-3.55],[2.3,-3.64],[-3.47,-3.72],[6.24,-4.1],[0.3,-4.07],[-0.05,-4.12],[-0.12,-4.39]];
const iAlk=[[-6.64,1.83],[-6.64,-0.63],[-6.64,-3.16],[-6.64,-4.13],[2.06,3.09],[3.61,2.03],[-1.27,1.41],[-2.67,-1.11],[1.15,-2.17],[7.57,-1.4]];
const iCsmd1=[[-6.64,0.83],[-6.64,0.29],[-6.64,-0.94],[-6.64,-2.4],[-6.64,-2.7],[-6.64,-3.01],
[-5.04,-6.62],[-3.02,-6.62],[-2.25,-6.62],[0.49,-6.62],[1.62,-6.62],[2.06,-6.62],[5.77,-6.62],
[5.7,4.67],[0.66,4.24],[-3.02,4.1],[3.73,3.52],[2.63,3.44],[2.04,2.57],[-1.85,2.18],[0.59,2.18],[1.62,2.18],[1.13,1.98],[-1.08,1.75],[3.07,1.67],[-0.38,1.6],[2.95,1.49],[-1.2,1.21],[2.09,1.14],[1.2,1.14],[1.08,1.06],[-4.48,0.83],[-1.34,0.78],[0.19,0.78],[2.37,0.71],[-1.34,0.57],[-0.63,0.52],[-4.08,0.38],[1.57,0.41],[-2.25,0.34],[2.42,0.32],[-0.02,0.34],[5.42,0.28],[-3.21,0.18],[-2.72,0.06],[1.9,-0.02],[-2.2,-0.11],[2.65,-0.05],[2.13,-0.4],[-1.27,-0.58],[-0.68,-0.74],[-3.26,-0.74],[1.55,-0.78],[-0.3,-1.06],[0.33,-1.32],[-0.14,-1.44],[-0.91,-1.81],[-0.45,-1.86],[-1.88,-1.94],[6.94,-2.12],[0.59,-2.61],[-1.22,-3.03]];
const iBoth=[[-6.64,-1.29],[-0.3,0.55],[-6.64,-6.62],[-0.8,-6.62],[1.17,-6.62],[6.28,-6.62]];

// ---------- Rendering ----------
const NS='http://www.w3.org/2000/svg';
const root=document.getElementById('plots');

function addGroup(parent,name){
  const el=document.createElementNS(NS,'g');
  
  
  parent.appendChild(el);
  return el;
}
function addLine(parent,x1,y1,x2,y2,stroke,width,dash,name){
  const el=document.createElementNS(NS,'line');
  
  
  el.setAttribute('x1',x1);el.setAttribute('y1',y1);el.setAttribute('x2',x2);el.setAttribute('y2',y2);
  el.setAttribute('stroke',stroke);el.setAttribute('stroke-width',width);
  if(dash)el.setAttribute('stroke-dasharray',dash);
  parent.appendChild(el);
  return el;
}
function addRect(parent,x,y,w,h,fill,name){
  const el=document.createElementNS(NS,'rect');
  
  
  el.setAttribute('x',x);el.setAttribute('y',y);el.setAttribute('width',w);el.setAttribute('height',h);
  el.setAttribute('fill',fill);
  parent.appendChild(el);
  return el;
}
function addDot(parent,x,y,r,fill,stroke,sw,name){
  const el=document.createElementNS(NS,'circle');
  
  
  el.setAttribute('cx',x);el.setAttribute('cy',y);el.setAttribute('r',r);
  el.setAttribute('fill',fill);
  if(stroke){el.setAttribute('stroke',stroke);el.setAttribute('stroke-width',sw);}
  parent.appendChild(el);
  return el;
}
function addLabel(parent,x,y,str,size,anchor,name){
  const el=document.createElementNS(NS,'text');
  
  
  el.setAttribute('x',x);el.setAttribute('y',y);el.setAttribute('font-size',size);el.setAttribute('text-anchor',anchor);
  el.textContent=str;
  parent.appendChild(el);
  return el;
}

function drawBox(g,cx,half,box,yS,name){
  addRect(g,cx-half,yS(box[3]),half*2,yS(box[1])-yS(box[3]),'#EEEEEE',name+'-iqr-box');
  addLine(g,cx,yS(box[0]),cx,yS(box[4]),'#999999',7,null,name+'-whisker-stem');
  addLine(g,cx-half,yS(box[0]),cx+half,yS(box[0]),'#999999',7,null,name+'-low-whisker');
  addLine(g,cx-half,yS(box[4]),cx+half,yS(box[4]),'#999999',7,null,name+'-high-whisker');
  addLine(g,cx-half,yS(box[2]),cx+half,yS(box[2]),'#999999',7,null,name+'-median');
}

function stripPanel(id,L,ticks,mutBox,wildBox,mut,wild){
  const g=addGroup(root,'strip-panel-'+id);
  const yS=v=>L.y0-v*L.uy;
  const span=L.gridEnd-L.axisX-5;
  const period=(span+36)/6;
  ticks.forEach(t=>{
    addLine(g,L.axisX+5,yS(t),L.gridEnd,yS(t),'#EEF0F2',7,(period-36)+' 36','y-gridline');
  });
  [L.catA,L.catB].forEach(c=>{
    addLine(g,c,L.xAxisY,c,L.top,'#EFF0F3',7,'88 38','x-gridline');
  });
  drawBox(g,L.catA,L.half,mutBox,yS,'mutation');
  drawBox(g,L.catB,L.half,wildBox,yS,'wild');
  mut.forEach(p=>{addDot(g,L.catA+p[0]*L.half/100,yS(p[1]),11.5,'#00ADEF',null,0,'mutation-point');});
  wild.forEach(p=>{addDot(g,L.catB+p[0]*L.half/100,yS(p[1]),11.5,'#00ADEF',null,0,'wild-point');});
  addLine(g,L.axisX,L.top,L.axisX,L.xAxisY+3,'#000',7,null,'y-axis-line');
  addLine(g,L.axisX-L.xAxisLead,L.xAxisY,L.xEnd,L.xAxisY,'#000',7,null,'x-axis-line');
  ticks.forEach(t=>{
    addLine(g,L.axisX-18,yS(t),L.axisX,yS(t),'#000',5,null,'y-tick');
    addLabel(g,L.axisX-22,yS(t),String(t),46,'end','y-tick-label');
  });
  [L.catA,L.catB].forEach(c=>{
    addLine(g,c,L.xAxisY,c,L.xAxisY+17,'#000',6,null,'x-tick');
  });
}

function scatterPanel(id,L,xTicks,yTicks,fit,fitRange,series){
  const g=addGroup(root,'scatter-panel-'+id);
  const xS=v=>L.x0+v*L.ux;
  const yS=v=>L.y0-v*L.uy;
  yTicks.forEach(t=>{addLine(g,L.left,yS(t),L.right,yS(t),'#EDEDED',2.5,'14 8','y-gridline');});
  xTicks.forEach(t=>{addLine(g,xS(t),L.top,xS(t),L.bottom,'#EDEDED',2.5,'14 8','x-gridline');});
  addLine(g,L.left,L.top,L.left,L.bottom,'#444',3,null,'y-axis-line');
  addLine(g,L.left,L.bottom,L.right,L.bottom,'#444',3,null,'x-axis-line');
  yTicks.forEach(t=>{
    addLine(g,L.left-10,yS(t),L.left,yS(t),'#444',3,null,'y-tick');
    addLabel(g,L.left-18,yS(t),String(t),45,'end','y-tick-label');
  });
  xTicks.forEach(t=>{
    addLine(g,xS(t),L.bottom,xS(t),L.bottom+10,'#444',3,null,'x-tick');
    addLabel(g,xS(t),L.labelY,String(t),45,'middle','x-tick-label');
  });
  series.forEach(s=>{
    const sg=addGroup(g,s.name+'-series');
    s.points.forEach(p=>{addDot(sg,xS(p[0]),yS(p[1]),12,s.fill,s.stroke,2.5,s.name+'-point');});
  });
  const fx=v=>fit[0]*v+fit[1];
  addLine(g,xS(fitRange[0]),yS(fx(fitRange[0])),xS(fitRange[1]),yS(fx(fitRange[1])),'#C8473F',5,null,'regression-line');
}

const BLUE={fill:'#00A2E8',stroke:'#1A7FC0'};
const GOLD={fill:'#D69E00',stroke:'#B58500'};
const PINK={fill:'#FFA5D2',stroke:'#F890C4'};
const RED={fill:'#FF0000',stroke:'#E00000'};

stripPanel('a',{axisX:191,xAxisY:966,y0:966,uy:78.85,top:170,xEnd:909,gridEnd:880,catA:362,catB:743,half:104,xAxisLead:18},aTicks,aMutationBox,aWildBox,aMutation,aWild);
stripPanel('b',{axisX:1134,xAxisY:964,y0:964,uy:60.95,top:168,xEnd:1825.6,gridEnd:1823,catA:1297,catB:1660,half:98,xAxisLead:18},bTicks,bMutationBox,bWildBox,bMutation,bWild);
stripPanel('c',{axisX:2057,xAxisY:955,y0:955,uy:64.67,top:157,xEnd:2783,gridEnd:2744,catA:2227.6,catB:2609,half:103.7,xAxisLead:18},cTicks,cMutationBox,cWildBox,cMutation,cWild);
stripPanel('d',{axisX:3019.7,xAxisY:949.6,y0:949.6,uy:69.76,top:153,xEnd:3810,gridEnd:3800,catA:3189.7,catB:3571.5,half:103,xAxisLead:18},dTicks,dMutationBox,dWildBox,dMutation,dWild);
stripPanel('e',{axisX:190.5,xAxisY:2152,y0:2106,uy:76.05,top:1358,xEnd:916,gridEnd:877,catA:360.6,catB:741.8,half:103,xAxisLead:4},eTicks,eMutationBox,eWildBox,eMutation,eWild);
stripPanel('f',{axisX:1141,xAxisY:2152.7,y0:2152.7,uy:73.1,top:1355.6,xEnd:1853.7,gridEnd:1827,catA:1306.8,catB:1682.6,half:101,xAxisLead:18},fTicks,fMutationBox,fWildBox,fMutation,fWild);

scatterPanel('g',{left:2210,right:3304,top:1187,bottom:2267.5,x0:2665,ux:50.45,y0:2151,uy:67.9,labelY:2310},scatterXTicks,gYTicks,gFit,gFitRange,[
  {name:'neither-mutated',points:gNeither,...BLUE},{name:'csmd1-mutated',points:gCsmd1,...GOLD},{name:'both-mutated',points:gBoth,...RED}]);
scatterPanel('h',{left:372,right:1454,top:2535,bottom:3614,x0:821,ux:49.77,y0:4207,uy:123.4,labelY:3655},scatterXTicks,hYTicks,hFit,hFitRange,[
  {name:'neither-mutated',points:hNeither,...BLUE},{name:'tp53-mutated',points:hTp53,...PINK},{name:'csmd1-mutated',points:hCsmd1,...GOLD},{name:'both-mutated',points:hBoth,...RED}]);
scatterPanel('i',{left:2205,right:3289,top:2535,bottom:3614,x0:2655.6,ux:49.77,y0:3117,uy:56.86,labelY:3655},scatterXTicks,iYTicks,iFit,iFitRange,[
  {name:'neither-mutated',points:iNeither,...BLUE},{name:'csmd1-mutated',points:iCsmd1,...GOLD},{name:'alk-mutated',points:iAlk,...PINK},{name:'both-mutated',points:iBoth,...RED}]);
</script>
</body>
</html>
